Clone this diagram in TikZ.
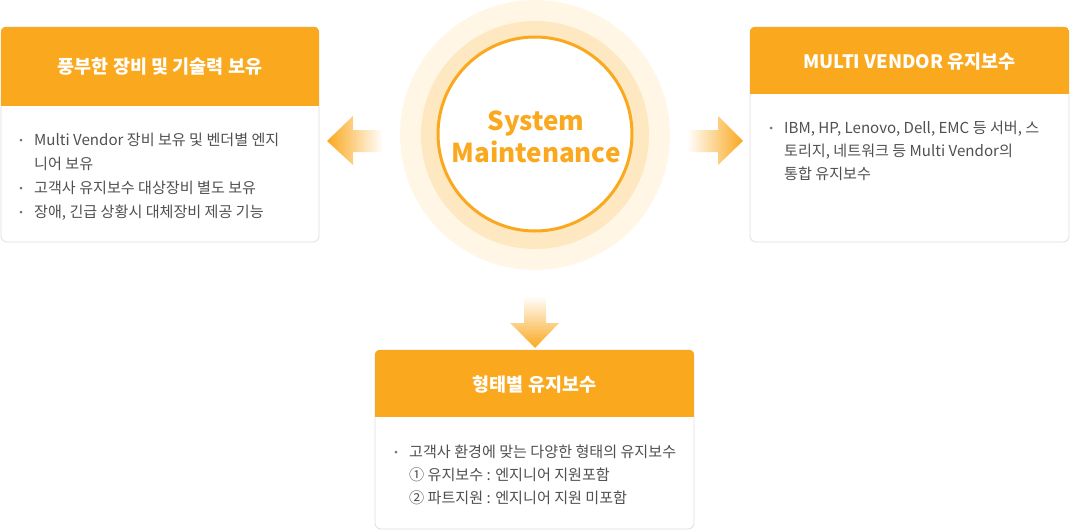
\documentclass[tikz,border=0pt]{standalone}
\usepackage{fontspec}
\setmainfont{Noto Sans CJK KR}
\usetikzlibrary{positioning}
\definecolor{mainorange}{RGB}{250,168,30}
\definecolor{ringouter}{RGB}{255,246,230}
\definecolor{ringmid}{RGB}{254,232,194}
\definecolor{bodygray}{RGB}{80,80,80}
\definecolor{panelline}{RGB}{222,222,222}

\begin{document}
\begin{tikzpicture}[x=1pt,y=-1pt,
    panel/.style={draw=panelline,fill=white,rounded corners=6pt,line width=0.8pt,inner sep=0pt},
    headtext/.style={font=\fontsize{18.5}{22}\selectfont\bfseries,text=white},
    bodytext/.style={font=\fontsize{15.1}{18}\selectfont,text=bodygray,anchor=base west,inner sep=0pt},
    bulletdot/.style={circle,fill=bodygray!80,minimum size=3pt,inner sep=0pt}]
  \useasboundingbox (0,0) rectangle (1070,530);

  % centre circle with glow rings
  \fill[ringouter] (535,135) circle (135pt);
  \fill[ringmid] (535,135) circle (114pt);
  \node[circle,draw=mainorange,line width=3pt,fill=white,minimum size=194pt,inner sep=0pt] (core) at (535,134) {};
  \node[font=\fontsize{26}{32}\selectfont\bfseries,text=mainorange,align=center] (coretext) at (536,137)
        {System\\Maintenance};

  % gradient arrows
  \shade[left color=mainorange,right color=white]
        (327,141) -- (353,116) -- (353,130) -- (383,130) -- (383,152) -- (353,152) -- (353,165) -- cycle;
  \shade[left color=white,right color=mainorange]
        (687,130) -- (718,130) -- (718,116) -- (743,141) -- (718,165) -- (718,152) -- (687,152) -- cycle;
  \shade[top color=white,bottom color=mainorange]
        (524,296) -- (546,296) -- (546,323) -- (559,323) -- (535,348) -- (510,323) -- (524,323) -- cycle;

  % left panel
  \node[panel,minimum width=318pt,minimum height=215pt] (leftbox) at (160,134.5) {};
  \begin{scope}
    \clip[rounded corners=6pt] (leftbox.north west) rectangle (leftbox.south east);
    \fill[mainorange] (leftbox.north west) rectangle (319,106);
  \end{scope}
  \node[headtext] (lefthead) at (160,67) {풍부한 장비 및 기술력 보유};
  \node[bulletdot] (lb1) at (21,140) {};
  \node[bodytext] (l1) at (34,145.5) {Multi Vendor 장비 보유 및 벤더별 엔지};
  \node[bodytext] (l2) at (34,169.5) {니어 보유};
  \node[bulletdot] (lb2) at (21,188) {};
  \node[bodytext] (l3) at (34,193.5) {고객사 유지보수 대상장비 별도 보유};
  \node[bulletdot] (lb3) at (21,212) {};
  \node[bodytext] (l4) at (34,217.5) {장애, 긴급 상황시 대체장비 제공 기능};

  % right panel
  \node[panel,minimum width=319pt,minimum height=215pt] (rightbox) at (909.5,134.5) {};
  \begin{scope}
    \clip[rounded corners=6pt] (rightbox.north west) rectangle (rightbox.south east);
    \fill[mainorange] (rightbox.north west) rectangle (1069,94);
  \end{scope}
  \node[headtext] (righthead) at (909.5,62) {MULTI VENDOR 유지보수};
  \node[bulletdot] (rb1) at (771,128) {};
  \node[bodytext] (r1) at (784,133.5) {IBM, HP, Lenovo, Dell, EMC 등 서버, 스};
  \node[bodytext] (r2) at (784,156.5) {토리지, 네트워크 등 Multi Vendor의};
  \node[bodytext] (r3) at (784,179.5) {통합 유지보수};

  % bottom panel
  \node[panel,minimum width=319pt,minimum height=179pt] (bottombox) at (534.5,439.5) {};
  \begin{scope}
    \clip[rounded corners=6pt] (bottombox.north west) rectangle (bottombox.south east);
    \fill[mainorange] (bottombox.north west) rectangle (694,417);
  \end{scope}
  \node[headtext] (bottomhead) at (534.5,385) {형태별 유지보수};
  \node[bulletdot] (bb1) at (396,452) {};
  \node[bodytext] (b1) at (409,457.5) {고객사 환경에 맞는 다양한 형태의 유지보수};
  \node[bodytext] (b2) at (409,480.5) {① 유지보수 : 엔지니어 지원포함};
  \node[bodytext] (b3) at (409,503.5) {② 파트지원 : 엔지니어 지원 미포함};
\end{tikzpicture}
\end{document}
